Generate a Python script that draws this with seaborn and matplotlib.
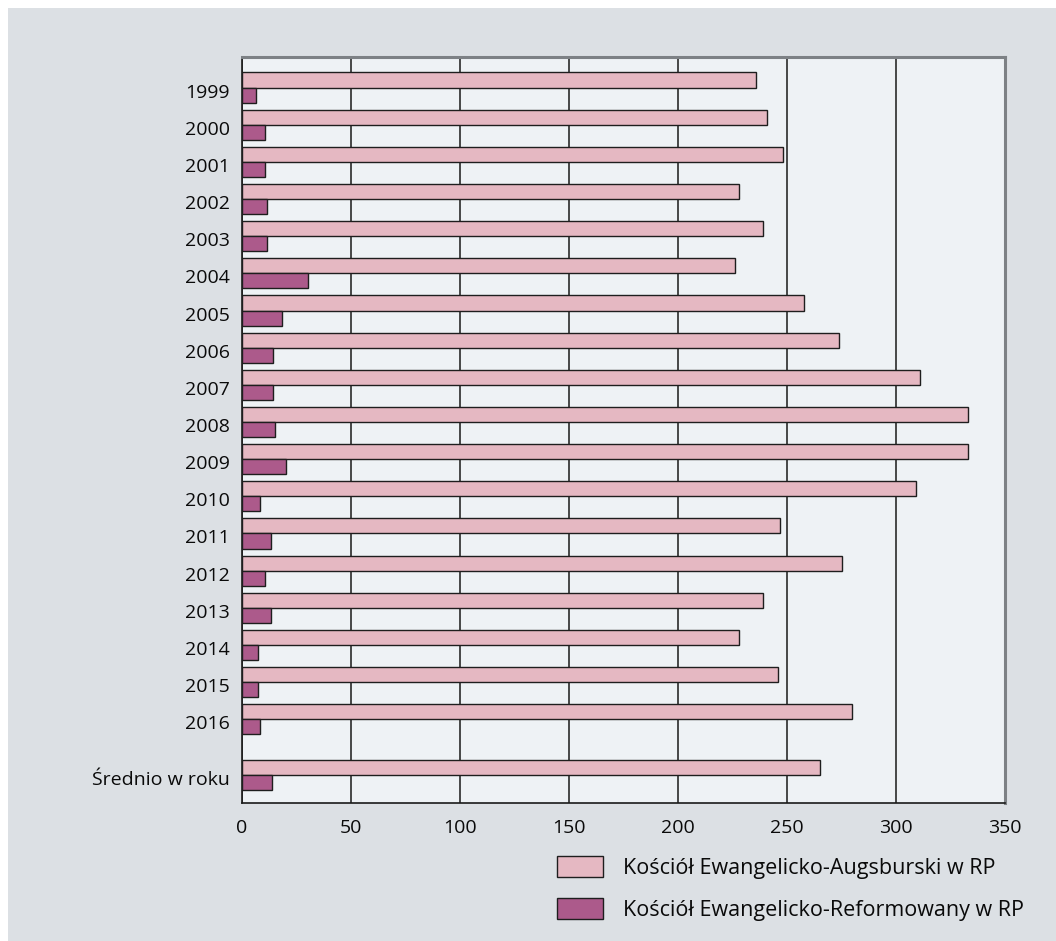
import numpy as np
import pandas as pd
import matplotlib
matplotlib.use("Agg")
import matplotlib.pyplot as plt
import matplotlib.transforms as mtransforms
from matplotlib.patches import Rectangle, Patch
import seaborn as sns

# Data
labels = ["1999", "2000", "2001", "2002", "2003", "2004", "2005", "2006", "2007",
          "2008", "2009", "2010", "2011", "2012", "2013", "2014", "2015", "2016",
          "Średnio w roku"]
augsburski = [236, 241, 248, 228, 239, 226, 258, 274, 311,
              333, 333, 309, 247, 275, 239, 228, 246, 280, 265]
reformowany = [6.3, 10.4, 10.4, 11.3, 11.3, 30.4, 18.3, 14.3, 14.3,
               15.2, 20.3, 8.4, 13.4, 10.4, 13.4, 7.5, 7.5, 8.4, 13.6]
series_names = ["Kościół Ewangelicko-Augsburski w RP",
                "Kościół Ewangelicko-Reformowany w RP"]
x_ticks = [0, 50, 100, 150, 200, 250, 300, 350]

pink = "#e5b8c2"
purple = "#ac5a8b"
fig_bg = "#dce0e4"
ax_bg = "#eef2f5"

# row positions: yearly rows, then half a row gap before the average
pos = list(np.arange(len(labels) - 1, dtype=float)) + [len(labels) - 1 + 0.5]

df = pd.DataFrame({
    "pos": pos * 2,
    "value": augsburski + reformowany,
    "series": [series_names[0]] * len(labels) + [series_names[1]] * len(labels),
})

sns.set_style("white")
plt.rcParams["font.family"] = ["Open Sans", "DejaVu Sans"]

fig = plt.figure(figsize=(10.56, 9.41), dpi=100, facecolor="white")
fig.patches.append(Rectangle((8 / 1056, 0), 1, 1 - 8 / 941, transform=fig.transFigure,
                             facecolor=fig_bg, edgecolor="none", zorder=-10))

ax = fig.add_axes([242 / 1056, 1 - 803.3 / 941, 763 / 1056, 746.6 / 941])
ax.set_facecolor(ax_bg)

sns.barplot(data=df, x="value", y="pos", hue="series", hue_order=series_names,
            orient="h", native_scale=True, palette=[pink, purple], saturation=1,
            width=0.81, edgecolor="#1e1e1e", linewidth=1.0, legend=False,
            ax=ax, zorder=3)

ax.set_xlim(0, 350)
ax.set_ylim(pos[-1] + 0.76, -0.83)
ax.set_xticks(x_ticks)
ax.set_xticklabels([str(t) for t in x_ticks])
ax.set_yticks(pos)
ax.set_yticklabels(labels)
ax.set_xlabel("")
ax.set_ylabel("")
ax.tick_params(axis="both", length=0, labelsize=14, colors="#0a0a0a")
ax.tick_params(axis="y", pad=9)
ax.tick_params(axis="x", pad=11)

# year labels sit slightly below the group centre in the reference
shift = mtransforms.ScaledTranslation(0, -3 / 100, fig.dpi_scale_trans)
for lbl in ax.get_yticklabels():
    lbl.set_transform(lbl.get_transform() + shift)

ax.set_axisbelow(True)
ax.grid(axis="x", color="#2a2a2a", linewidth=1.2)
ax.grid(axis="y", visible=False)

for side in ["left", "bottom"]:
    ax.spines[side].set_color("#1a1a1a")
    ax.spines[side].set_linewidth(1.2)
for side in ["top", "right"]:
    ax.spines[side].set_color("#7d8185")
    ax.spines[side].set_linewidth(2.2)

handles = [Patch(facecolor=pink, edgecolor="#1e1e1e", linewidth=1.0),
           Patch(facecolor=purple, edgecolor="#1e1e1e", linewidth=1.0)]
fig.legend(handles, series_names, loc="upper left",
           bbox_to_anchor=(557 / 1056, 1 - 856 / 941), frameon=False,
           fontsize=15.5, handlelength=2.15, handleheight=1.15, handletextpad=0.9,
           labelspacing=0.88, borderpad=0, borderaxespad=0, labelcolor="#0a0a0a")

fig.savefig("out.png", dpi=100, facecolor=fig.get_facecolor())
